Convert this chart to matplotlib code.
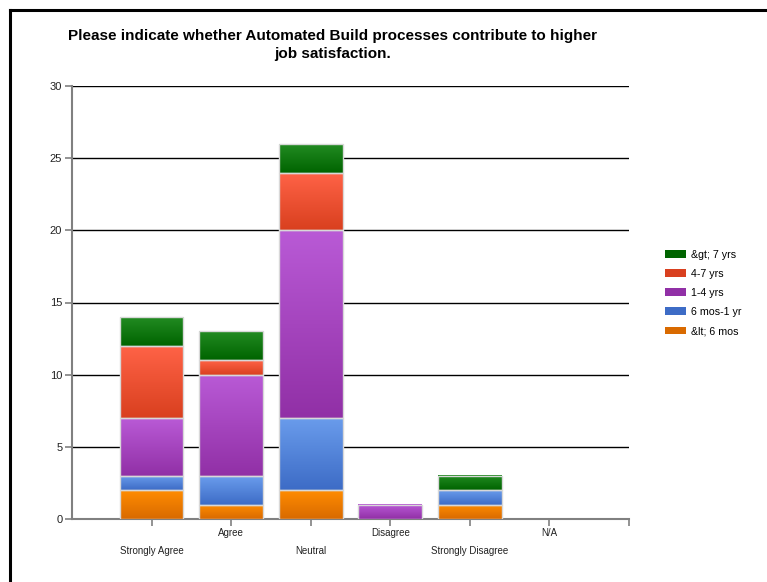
import numpy as np
import matplotlib
matplotlib.use("Agg")
from matplotlib import pyplot as plt
from matplotlib.colors import LinearSegmentedColormap
from matplotlib.patches import Patch
from matplotlib.lines import Line2D

plt.rcParams["font.family"] = ["Liberation Sans", "DejaVu Sans"]

categories = ["Strongly Agree", "Agree", "Neutral", "Disagree", "Strongly Disagree", "N/A"]
series = ["&lt; 6 mos", "6 mos-1 yr", "1-4 yrs", "4-7 yrs", "&gt; 7 yrs"]
lt_6_mos = [2, 1, 2, 0, 1, 0]
mos6_1yr = [1, 2, 5, 0, 1, 0]
yrs1_4 = [4, 7, 13, 1, 0, 0]
yrs4_7 = [5, 1, 4, 0, 0, 0]
gt_7_yrs = [2, 2, 2, 0, 1, 0]
values = [lt_6_mos, mos6_1yr, yrs1_4, yrs4_7, gt_7_yrs]

# (top colour, bottom colour) of each gradient
colors = [
    ("#ff8c00", "#d96a00"),
    ("#6a9cec", "#3d6cc6"),
    ("#b95ad6", "#9130a6"),
    ("#ff6347", "#d9401f"),
    ("#228b22", "#006400"),
]

fig = plt.figure(figsize=(7.67, 5.82), dpi=100)
ax = fig.add_axes([72 / 767, 1 - 519 / 582, (629 - 72) / 767, (519 - 86) / 582])

x = np.arange(len(categories))
bottom = np.zeros(len(categories))
for vals, (ctop, cbot) in zip(values, colors):
    bars = ax.bar(x, vals, 0.8, bottom=bottom, color="none", edgecolor="none", zorder=3)
    cmap = LinearSegmentedColormap.from_list("g", [cbot, ctop])
    grad = np.linspace(0, 1, 64).reshape(-1, 1)
    for b in bars:
        if b.get_height() == 0:
            continue
        x0, y0, w, h = b.get_x(), b.get_y(), b.get_width(), b.get_height()
        ax.imshow(grad, cmap=cmap, origin="lower", aspect="auto",
                  extent=[x0, x0 + w, y0, y0 + h], zorder=3, interpolation="bilinear")
        ax.add_patch(plt.Rectangle((x0, y0), w, h, fill=False, edgecolor="#d8d8d8",
                                   linewidth=1.0, zorder=4))
    bottom += np.array(vals)

ax.set_xlim(-1, 6)
ax.set_ylim(0, 30)
ax.set_yticks(range(0, 31, 5))
ax.yaxis.grid(True, color="black", linewidth=1.0, zorder=1)
ax.set_axisbelow(True)

ax.set_xticks(list(x) + [6])
ax.set_xticklabels([])
for i, c in enumerate(categories):
    off = -14 if i % 2 == 1 else -32
    ax.annotate(c, xy=(i, 0), xycoords="data", xytext=(0, off), textcoords="offset pixels",
                ha="center", va="center", fontsize=7, color="#222222")

for s in ["top", "right"]:
    ax.spines[s].set_visible(False)
for s in ["left", "bottom"]:
    ax.spines[s].set_color("#808080")
    ax.spines[s].set_linewidth(1.5)
ax.tick_params(axis="both", colors="#808080", length=5, width=1.2, labelsize=8,
               labelcolor="#222222")
ax.tick_params(axis="y", pad=2)

fig.text(333 / 767, 1 - 36 / 582, "Please indicate whether Automated Build processes contribute to higher",
         ha="center", va="center", fontsize=11, fontweight="bold")
fig.text(333 / 767, 1 - 54 / 582, "job satisfaction.", ha="center", va="center",
         fontsize=11, fontweight="bold")

handles = [Patch(facecolor=colors[i][1], edgecolor="none") for i in range(4, -1, -1)]
labels = [series[i] for i in range(4, -1, -1)]
fig.legend(handles, labels, loc="center left", bbox_to_anchor=(665 / 767, 1 - 293 / 582),
           frameon=False, fontsize=7.7, handlelength=1.96, handleheight=0.75,
           labelspacing=0.85, handletextpad=0.47, borderpad=0, borderaxespad=0)

# frame border on left and top
lw = 2.2
fig.add_artist(Line2D([9.5 / 767, 9.5 / 767], [0, 1 - 9.5 / 582], color="black",
                      linewidth=lw, transform=fig.transFigure))
fig.add_artist(Line2D([9.5 / 767, 1], [1 - 9.5 / 582, 1 - 9.5 / 582], color="black",
                      linewidth=lw, transform=fig.transFigure))

fig.savefig("out.png", dpi=100)
